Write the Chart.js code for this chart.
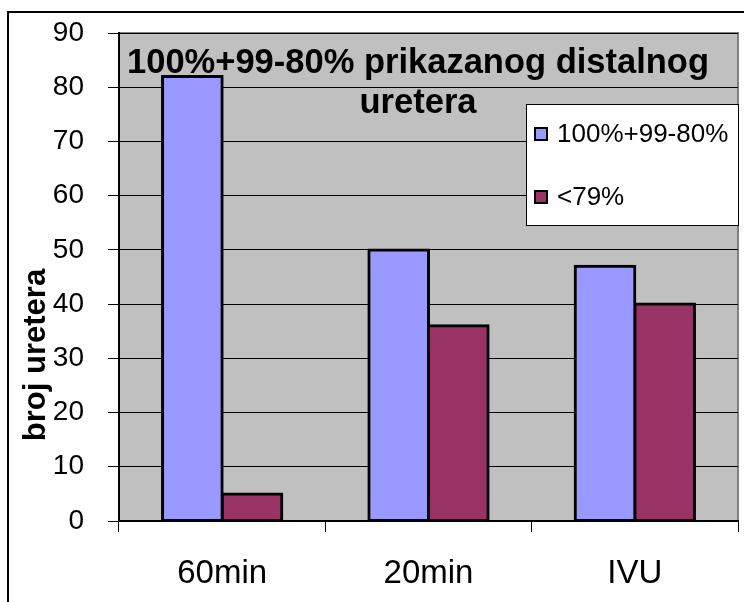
<!DOCTYPE html>
<html>
<head>
<meta charset="utf-8">
<script src="https://cdn.jsdelivr.net/npm/chart.js@4/dist/chart.umd.min.js"></script>
<style>
  html, body { margin:0; padding:0; background:#fff; }
  canvas { display:block; }
</style>
</head>
<body>
<canvas id="chart" width="744" height="602"></canvas>
<script>
// Data
const categories = ["60min", "20min", "IVU"];
const seriesNames = ["100%+99-80%", "<79%"];
const seriesHigh = [82, 50, 47];
const seriesLow  = [5, 36, 40];
const yMin = 0, yMax = 90, yStep = 10;
const titleLines = ["100%+99-80% prikazanog distalnog", "uretera"];
const yTitle = "broj uretera";

const FONT = "'Liberation Sans', Arial, sans-serif";

// Gray plot background, frame, titles and legend
const decor = {
  id: "decor",
  beforeDraw(chart) {
    const { ctx, chartArea: a } = chart;
    ctx.save();
    ctx.fillStyle = "#c0c0c0";
    ctx.fillRect(a.left, a.top, a.right - a.left, a.bottom - a.top);
    // outer chart frame (runs off canvas right and bottom)
    ctx.strokeStyle = "#000";
    ctx.lineWidth = 2;
    ctx.beginPath();
    ctx.moveTo(8, 602); ctx.lineTo(8, 12); ctx.lineTo(744, 12);
    ctx.stroke();
    // plot area frame top/right
    ctx.strokeStyle = "#808080";
    ctx.lineWidth = 2;
    ctx.beginPath();
    ctx.moveTo(a.left, a.top); ctx.lineTo(a.right, a.top); ctx.lineTo(a.right, a.bottom);
    ctx.stroke();
    ctx.restore();
  },
  afterDraw(chart) {
    const { ctx } = chart;
    ctx.save();
    // title inside plot
    ctx.fillStyle = "#000";
    ctx.font = "bold 34.5px " + FONT;
    ctx.textAlign = "center";
    ctx.textBaseline = "middle";
    ctx.fillText(titleLines[0], 418, 63);
    ctx.fillText(titleLines[1], 418, 103);
    // y axis title
    ctx.save();
    ctx.translate(36, 355);
    ctx.rotate(-Math.PI / 2);
    ctx.font = "bold 31px " + FONT;
    ctx.fillText(yTitle, 0, 0);
    ctx.restore();
    // legend
    ctx.fillStyle = "#fff";
    ctx.fillRect(526, 104, 213, 122);
    ctx.strokeStyle = "#000";
    ctx.lineWidth = 1;
    ctx.strokeRect(526.5, 104.5, 212, 121);
    const rows = [134, 197];
    ctx.font = "26px " + FONT;
    ctx.textAlign = "left";
    chart.data.datasets.forEach((ds, i) => {
      const y = rows[i];
      ctx.fillStyle = ds.backgroundColor;
      ctx.fillRect(535, y - 6, 12, 12);
      ctx.lineWidth = 2;
      ctx.strokeStyle = "#000";
      ctx.strokeRect(535, y - 6, 12, 12);
      ctx.fillStyle = "#000";
      ctx.fillText(ds.label, 557, y + 1);
    });
    ctx.restore();
  }
};

new Chart(document.getElementById("chart"), {
  type: "bar",
  data: {
    labels: categories,
    datasets: [
      { label: seriesNames[0], data: seriesHigh, backgroundColor: "#9999ff" },
      { label: seriesNames[1], data: seriesLow,  backgroundColor: "#993366" }
    ]
  },
  options: {
    responsive: false,
    animation: false,
    devicePixelRatio: 1,
    layout: { padding: { left: 8, top: 33, right: 6, bottom: 0 } },
    datasets: {
      bar: {
        categoryPercentage: 0.578,
        barPercentage: 1,
        borderColor: "#000",
        borderWidth: 3,
        borderSkipped: false,
        inflateAmount: 1.5
      }
    },
    plugins: {
      legend: { display: false },
      tooltip: { enabled: false }
    },
    scales: {
      x: {
        afterFit(s) { s.height = 81; s.paddingLeft = 0; s.paddingRight = 0; },
        grid: {
          offset: true,
          drawOnChartArea: false,
          drawTicks: true,
          tickLength: 11,
          tickColor: "#000"
        },
        border: { color: "#000", width: 2 },
        ticks: {
          color: "#000",
          padding: 22,
          font: { family: FONT, size: 33 }
        }
      },
      y: {
        min: yMin,
        max: yMax,
        afterFit(s) { s.width = 111; s.paddingTop = 0; s.paddingBottom = 0; },
        grid: {
          color: "#000",
          lineWidth: 1,
          drawTicks: true,
          tickLength: 11,
          tickColor: "#000"
        },
        border: { color: "#000", width: 2 },
        ticks: {
          stepSize: yStep,
          color: "#000",
          padding: 24,
          font: { family: FONT, size: 28 }
        }
      }
    }
  },
  plugins: [decor]
});
</script>
</body>
</html>
